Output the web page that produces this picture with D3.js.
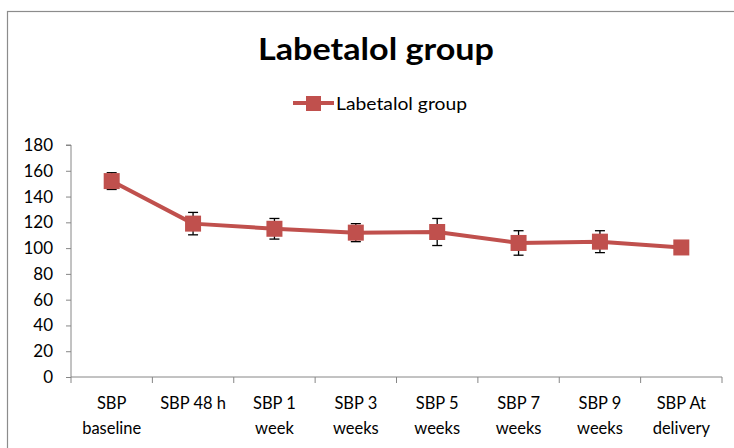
<!DOCTYPE html>
<html><head><meta charset="utf-8">
<script src="https://cdn.jsdelivr.net/npm/d3@7"></script>
<style>body{margin:0;background:#fff}svg{display:block}text{font-family:Lato,"Open Sans",sans-serif}</style>
</head><body>
<svg id="c" width="734" height="448"></svg>
<script>
const categories = [["SBP","baseline"],["SBP 48 h"],["SBP 1","week"],["SBP 3","weeks"],["SBP 5","weeks"],["SBP 7","weeks"],["SBP 9","weeks"],["SBP At","delivery"]];
const values = [152, 119, 115, 112, 112.5, 104, 105, 100.5];
const errors = [6.5, 8.7, 8, 7, 10.5, 9.5, 8.5, 2];
const yTicks = [0,20,40,60,80,100,120,140,160,180];
const seriesName = "Labetalol group";

const svg = d3.select("#c");
const color = "#C0504D";
const axisColor = "#868686";

svg.append("rect").attr("x",7.5).attr("y",11.5).attr("width",760).attr("height",460)
  .attr("fill","#fff").attr("stroke","#8c8c8c").attr("stroke-width",1.2);

const m = {l:71, r:722, t:145, b:377};
const x = d3.scaleBand().domain(d3.range(categories.length)).range([m.l, m.r]);
const y = d3.scaleLinear().domain([0,180]).range([m.b, m.t]);

// Title
svg.append("text").attr("x",258).attr("y",60)
  .attr("font-size",31).attr("font-weight","bold").attr("fill","#000")
  .attr("textLength",236).attr("lengthAdjust","spacingAndGlyphs").text(seriesName);

// Legend
const lg = svg.append("g");
lg.append("line").attr("x1",293).attr("x2",334).attr("y1",103).attr("y2",103).attr("stroke",color).attr("stroke-width",4);
lg.append("rect").attr("x",306).attr("y",96).attr("width",15).attr("height",15).attr("fill",color);
lg.append("text").attr("x",336).attr("y",110).attr("font-size",16.5).attr("fill","#000")
  .attr("textLength",131).attr("lengthAdjust","spacingAndGlyphs").text(seriesName);

// Y axis
const yAxis = d3.axisLeft(y).tickValues(yTicks).tickSize(5).tickPadding(13);
const gy = svg.append("g").attr("transform",`translate(${m.l},0)`).call(yAxis);
gy.select(".domain").attr("stroke",axisColor).attr("d",`M-5,${m.t}H0V${m.b}`);
gy.selectAll(".tick line").attr("stroke",axisColor);
gy.selectAll(".tick text").attr("font-size",17).attr("fill","#000").attr("font-family","Lato,'Open Sans',sans-serif");

// X axis
const gx = svg.append("g").attr("transform",`translate(0,${m.b})`);
gx.append("line").attr("x1",m.l).attr("x2",m.r).attr("y1",0).attr("y2",0).attr("stroke",axisColor);
const edges = d3.range(categories.length+1).map(i => i<categories.length ? x(i) : x(categories.length-1)+x.bandwidth());
gx.selectAll("line.t").data(edges).join("line").attr("class","t")
  .attr("x1",d=>d).attr("x2",d=>d).attr("y1",0).attr("y2",6).attr("stroke",axisColor);
const lab = gx.selectAll("text.c").data(categories).join("text").attr("class","c")
  .attr("text-anchor","middle").attr("font-size",16.5).attr("fill","#000");
lab.each(function(d,i){
  const t = d3.select(this);
  d.forEach((s,j)=>t.append("tspan").attr("x",x(i)+x.bandwidth()/2).attr("y",32+j*25).text(s));
});

const cx = i => x(i)+x.bandwidth()/2;

// Line
svg.append("path").datum(values)
  .attr("d", d3.line().x((d,i)=>cx(i)).y(d=>y(d)))
  .attr("fill","none").attr("stroke",color).attr("stroke-width",4).attr("stroke-linejoin","round");

// Error bars
const eb = svg.append("g").attr("stroke","#000").attr("stroke-width",1.3);
values.forEach((v,i)=>{
  const e = errors[i], xc = cx(i);
  eb.append("line").attr("x1",xc).attr("x2",xc).attr("y1",y(v+e)).attr("y2",y(v-e));
  eb.append("line").attr("x1",xc-5).attr("x2",xc+5).attr("y1",y(v+e)).attr("y2",y(v+e));
  eb.append("line").attr("x1",xc-5).attr("x2",xc+5).attr("y1",y(v-e)).attr("y2",y(v-e));
});

// Markers
svg.append("g").selectAll("rect").data(values).join("rect")
  .attr("x",(d,i)=>cx(i)-8).attr("y",d=>y(d)-8).attr("width",16).attr("height",16)
  .attr("fill",color);
</script>
</body></html>
